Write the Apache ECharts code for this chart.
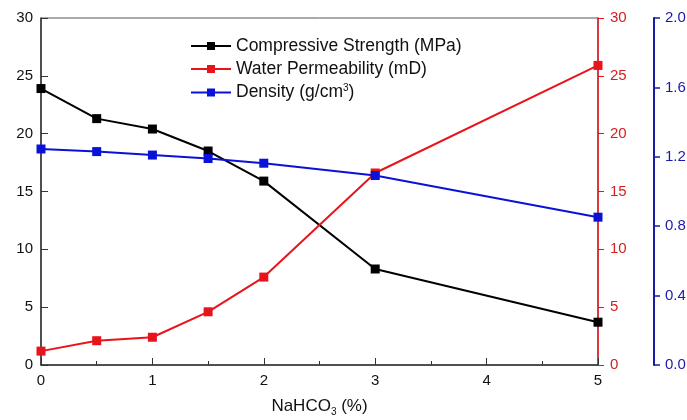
<!DOCTYPE html>
<html><head><meta charset="utf-8">
<script src="https://cdn.jsdelivr.net/npm/echarts@6/dist/echarts.min.js"></script>
<style>html,body{margin:0;padding:0;background:#fff}#c{width:687px;height:420px}</style>
</head><body><div id="c"></div>
<script>
const xValues = [0, 0.5, 1, 1.5, 2, 3, 5];
const compressive = [23.9, 21.3, 20.4, 18.5, 15.9, 8.3, 3.7];
const permeability = [1.2, 2.1, 2.4, 4.6, 7.6, 16.6, 25.9];
const density = [1.245, 1.23, 1.21, 1.19, 1.163, 1.092, 0.852];
const seriesNames = ['Compressive Strength (MPa)', 'Water Permeability (mD)', 'Density (g/cm3)'];

const font = 'Liberation Sans, Arial, sans-serif';
const chart = echarts.init(document.getElementById('c'));
const pair = (ys) => xValues.map((x, i) => [x, ys[i]]);
chart.setOption({
  animation: false,
  grid: {left: 41, right: 89, top: 18, bottom: 55, show: true, borderColor: '#555', borderWidth: 1,
    containLabel: false, outerBoundsMode: 'none'},
  legend: {
    left: 185, top: 32, orient: 'vertical', itemGap: 5, itemWidth: 40, itemHeight: 10,
    data: seriesNames,
    textStyle: {fontFamily: font, fontSize: 17.5, color: '#111',
      rich: {a: {fontFamily: font, fontSize: 17.5, color: '#111'}, s: {fontFamily: font, fontSize: 10, color: '#111', verticalAlign: 'top', padding: [0,0,9,0]}}},
    formatter: function (n) {
      if (n === 'Density (g/cm3)') return '{a|Density (g/cm}{s|3}{a|)}';
      return n;
    }
  },
  xAxis: {
    type: 'value', min: 0, max: 5, interval: 1,
    name: '{a|NaHCO}{s|3}{a| (%)}', nameLocation: 'middle', nameGap: 30,
    nameTextStyle: {rich: {a: {fontFamily: font, fontSize: 17, color: '#111'}, s: {fontFamily: font, fontSize: 10, color: '#111', verticalAlign: 'bottom', padding: [12,0,0,0]}}},
    axisLine: {lineStyle: {color: '#333', width: 1.5}},
    axisTick: {inside: true, length: 7, lineStyle: {color: '#333'}},
    minorTick: {show: true, splitNumber: 2, length: 4, lineStyle: {color: '#333'}},
    axisLabel: {fontFamily: font, fontSize: 15, color: '#111', margin: 8},
    splitLine: {show: false}
  },
  yAxis: [
    {type: 'value', position: 'left', min: 0, max: 30, interval: 5,
      axisLine: {show: true, lineStyle: {color: '#333', width: 1.5}},
      axisTick: {show: true, inside: true, length: 7, lineStyle: {color: '#333'}},
      axisLabel: {fontFamily: font, fontSize: 15, color: '#111', margin: 8},
      splitLine: {show: false}},
    {type: 'value', position: 'right', min: 0, max: 30, interval: 5,
      axisLine: {show: true, lineStyle: {color: '#e8141b', width: 1.5}},
      axisTick: {show: true, length: 6, lineStyle: {color: '#e8141b'}},
      axisLabel: {fontFamily: font, fontSize: 15, color: '#d42020', margin: 12},
      splitLine: {show: false}},
    {type: 'value', position: 'right', offset: 56, min: 0, max: 2, interval: 0.4,
      axisLine: {show: true, lineStyle: {color: '#1a1aa8', width: 2}},
      axisTick: {show: true, length: 6, lineStyle: {color: '#1a1aa8', width: 1.5}},
      axisLabel: {fontFamily: font, fontSize: 15, color: '#1a1aa8', margin: 11, formatter: v => v.toFixed(1)},
      splitLine: {show: false}}
  ],
  series: [
    {name: seriesNames[0], type: 'line', yAxisIndex: 0, data: pair(compressive), symbol: 'rect', symbolSize: 9,
      itemStyle: {color: '#000'}, lineStyle: {color: '#000', width: 2}},
    {name: seriesNames[1], type: 'line', yAxisIndex: 1, data: pair(permeability), symbol: 'rect', symbolSize: 9,
      itemStyle: {color: '#e8141b'}, lineStyle: {color: '#e8141b', width: 2}},
    {name: seriesNames[2], type: 'line', yAxisIndex: 2, data: pair(density), symbol: 'rect', symbolSize: 9,
      itemStyle: {color: '#0a12d8'}, lineStyle: {color: '#0a12d8', width: 2}}
  ]
});
</script></body></html>
